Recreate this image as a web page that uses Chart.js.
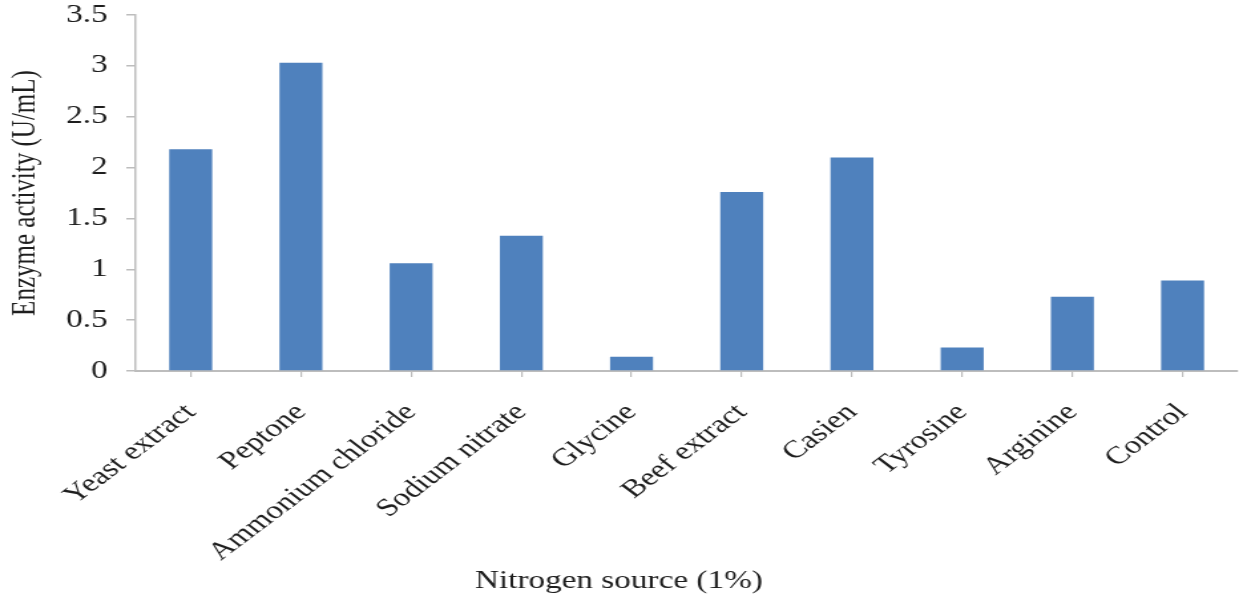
<!DOCTYPE html>
<html>
<head>
<meta charset="utf-8">
<script src="https://cdn.jsdelivr.net/npm/chart.js@4/dist/chart.umd.min.js"></script>
<style>
  html, body { margin: 0; padding: 0; background: #ffffff; overflow: hidden; }
  #wrap { width: 1239px; height: 596px; position: relative; }
</style>
</head>
<body>
<div id="wrap">
  <!-- the chart is laid out on a narrower canvas and widened to the page width -->
  <canvas id="c" width="932" height="596" style="display:block;width:1239px;height:596px;"></canvas>
</div>
<script>
// Nitrogen sources tested and the enzyme activity measured for each
const sources = ['Yeast extract', 'Peptone', 'Ammonium chloride', 'Sodium nitrate', 'Glycine',
                 'Beef extract', 'Casien', 'Tyrosine', 'Arginine', 'Control'];
const activity = [2.18, 3.03, 1.06, 1.33, 0.14, 1.76, 2.10, 0.23, 0.73, 0.89];
const yTickValues = [0, 0.5, 1, 1.5, 2, 2.5, 3, 3.5];

const serif = "'Liberation Serif', 'Times New Roman', serif";
const axisGrey = '#bdbdbd';
const textColor = '#1e1e1e';

new Chart(document.getElementById('c'), {
  type: 'bar',
  data: {
    labels: sources,
    datasets: [{
      data: activity,
      backgroundColor: '#4f81bd',
      borderWidth: 0,
      categoryPercentage: 1.0,
      barPercentage: 0.39
    }]
  },
  options: {
    responsive: false,
    maintainAspectRatio: false,
    animation: false,
    devicePixelRatio: 1,
    layout: { padding: { top: 15, right: 1, left: 0, bottom: 0 } },
    plugins: {
      legend: { display: false },
      tooltip: { enabled: false },
      title: {
        display: true,
        position: 'bottom',
        text: 'Nitrogen source (1%)',
        color: textColor,
        font: { family: serif, size: 25, weight: 'normal' },
        padding: { top: 0, bottom: 0 }
      }
    },
    scales: {
      x: {
        grid: { offset: false, drawOnChartArea: false, tickLength: 6, color: axisGrey, lineWidth: 1.2 },
        border: { color: axisGrey, width: 2 },
        ticks: {
          color: textColor,
          font: { family: serif, size: 25 },
          minRotation: 45,
          maxRotation: 45,
          autoSkip: false,
          padding: 21
        },
        afterFit(scale) {
          scale.height = 195;
          scale.paddingLeft = 0;
          scale.paddingRight = 0;
        }
      },
      y: {
        min: 0,
        max: 3.5,
        afterBuildTicks(scale) { scale.ticks = yTickValues.map(v => ({ value: v })); },
        grid: { drawOnChartArea: false, tickLength: 7, color: axisGrey, lineWidth: 1.5 },
        border: { color: axisGrey, width: 1.5 },
        ticks: {
          color: textColor,
          font: { family: serif, size: 25 },
          padding: 14,
          callback: v => String(v)
        },
        title: {
          display: true,
          text: 'Enzyme activity (U/mL)',
          color: textColor,
          font: { family: serif, size: 25 },
          padding: { top: 4, bottom: 0 }
        },
        afterFit(scale) {
          scale.width = 102;
          scale.paddingTop = 0;
          scale.paddingBottom = 0;
        }
      }
    }
  }
});
</script>
</body>
</html>
